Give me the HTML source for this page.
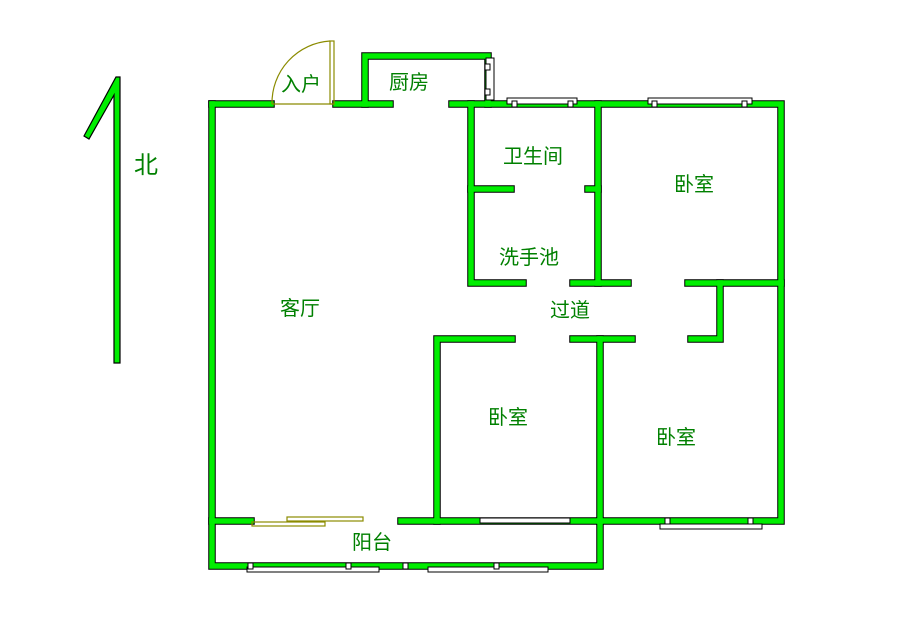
<!DOCTYPE html>
<html><head><meta charset="utf-8"><style>
html,body{margin:0;padding:0;background:#fff;}
svg{display:block}
text{font-family:"Liberation Sans","Noto Sans CJK SC",sans-serif;font-size:20px;fill:#008000;}
</style></head><body>
<svg width="899" height="628" viewBox="0 0 899 628" xmlns="http://www.w3.org/2000/svg">
<defs>
<g id="walls">
<path d="M212,104 V566 H600 V521"/>
<path d="M212,104 H271"/>
<path d="M336,104 H390"/>
<path d="M365,104 V56 H488 V104"/>
<path d="M452,104 H781 V521 H600"/>
<path d="M212,521 H251"/>
<path d="M401,521 H600"/>
<path d="M471,104 V283 H523"/>
<path d="M471,189 H511"/>
<path d="M598,104 V283"/>
<path d="M588,189 H598"/>
<path d="M573,283 H628"/>
<path d="M688,283 H781"/>
<path d="M720,283 V339 H691"/>
<path d="M512,339 H437 V521"/>
<path d="M573,339 H632"/>
<path d="M600,339 V521"/>
</g>
</defs>
<g fill="none" stroke-linecap="square">
<use href="#walls" stroke="#000" stroke-width="7.5"/>
<use href="#walls" stroke="#00ee00" stroke-width="5.5"/>
</g>
<g fill="#fff" stroke="#000" stroke-width="1">
<rect x="507" y="98" width="70" height="6"/>
<rect x="648" y="98" width="104" height="6"/>
<rect x="486" y="58" width="8" height="42"/>
<rect x="480" y="518" width="90" height="5"/>
<rect x="660" y="524" width="102" height="5"/>
<rect x="247" y="567" width="132" height="5"/>
<rect x="428" y="567" width="120" height="5"/>
<rect x="512" y="101" width="5" height="6"/>
<rect x="568" y="101" width="5" height="6"/>
<rect x="652" y="101" width="5" height="6"/>
<rect x="742" y="101" width="5" height="6"/>
<rect x="665" y="518" width="5" height="6"/>
<rect x="748" y="518" width="5" height="6"/>
<rect x="248" y="563" width="5" height="6"/>
<rect x="346" y="563" width="5" height="6"/>
<rect x="403" y="563" width="5" height="6"/>
<rect x="494" y="563" width="5" height="6"/>
<rect x="485" y="64" width="5" height="6"/>
<rect x="485" y="89" width="5" height="6"/>
</g>
<g fill="none" stroke="#8b8b00" stroke-width="1.2">
<path d="M272,104 A62,62 0 0 1 330,41"/>
<rect x="330" y="41" width="4" height="63"/>
<line x1="272" y1="104" x2="334" y2="104"/>
<rect x="252" y="522" width="73" height="4"/>
<rect x="287" y="517" width="76" height="4"/>
</g>
<g stroke="#000" stroke-width="1.2" fill="#00ee00">
<polygon points="114,363 120,363 120,77 116,77 84,136 89,139 114,95"/>
</g>
<text x="134" y="173" style="font-size:24px">北</text>
<text x="281" y="91">入户</text>
<text x="389" y="89">厨房</text>
<text x="503" y="163">卫生间</text>
<text x="674" y="191">卧室</text>
<text x="499" y="264">洗手池</text>
<text x="280" y="315">客厅</text>
<text x="550" y="317">过道</text>
<text x="488" y="424">卧室</text>
<text x="656" y="444">卧室</text>
<text x="352" y="549">阳台</text>
</svg>
</body></html>
